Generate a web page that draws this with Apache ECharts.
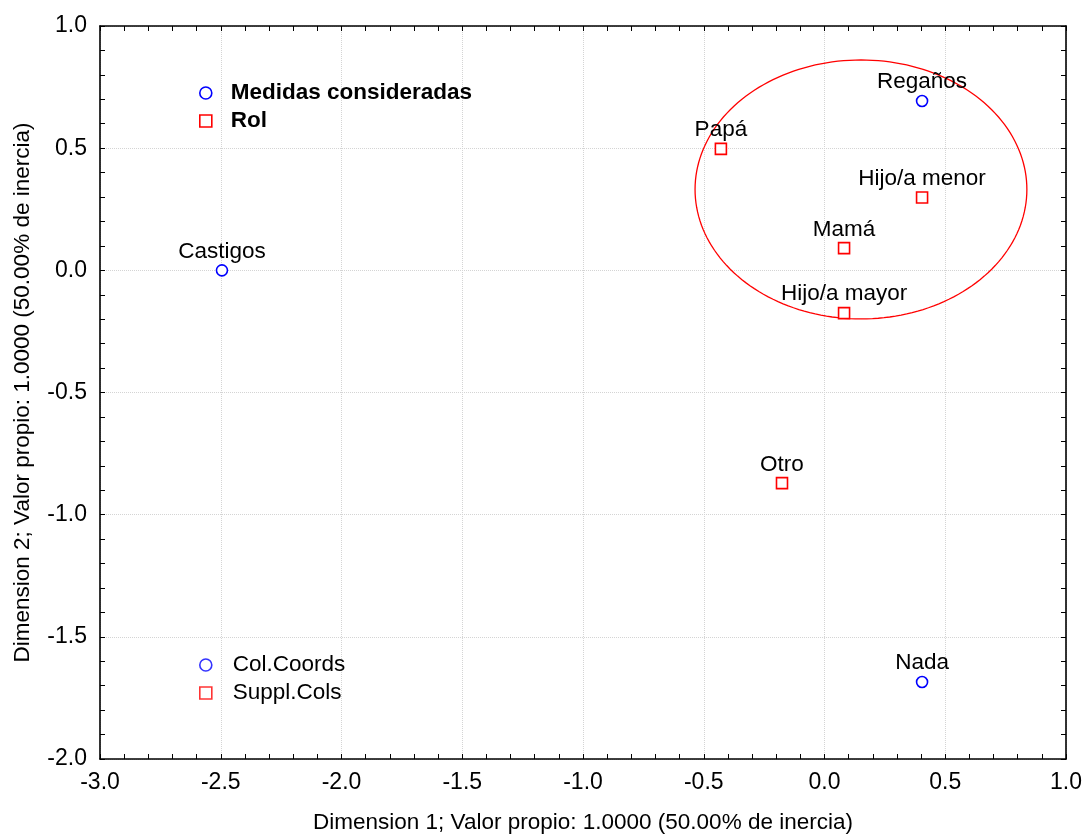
<!DOCTYPE html>
<html>
<head>
<meta charset="utf-8">
<script src="https://cdn.jsdelivr.net/npm/echarts@6/dist/echarts.min.js"></script>
<style>
html,body{margin:0;padding:0;background:#fff;}
#chart{width:1084px;height:835px;}
</style>
</head>
<body>
<div id="chart"></div>
<script>
// Column coordinates (Medidas consideradas)
const colNames = ['Castigos', 'Regaños', 'Nada'];
const colX = [-2.495, 0.404, 0.404];
const colY = [0.0, 0.693, -1.685];
// Supplementary columns (Rol)
const suppNames = ['Papá', 'Hijo/a menor', 'Mamá', 'Hijo/a mayor', 'Otro'];
const suppX = [-0.429, 0.404, 0.081, 0.081, -0.176];
const suppY = [0.497, 0.298, 0.091, -0.175, -0.871];
// Highlight ellipse: center x, center y, radius x, radius y (data units)
const ellipse = [0.151, 0.331, 0.687, 0.530];
const xTitle = 'Dimension 1; Valor propio: 1.0000 (50.00% de inercia)';
const yTitle = 'Dimension 2; Valor propio: 1.0000 (50.00% de inercia)';

const FONT = 'Liberation Sans, Arial, sans-serif';
const FS = 22.5;
const BLUE = '#0000ff', RED = '#ff0000';

const colData = colNames.map((n, i) => ({ name: n, value: [colX[i], colY[i]] }));
const suppData = suppNames.map((n, i) => ({ name: n, value: [suppX[i], suppY[i]] }));

const labelStyle = { show: true, position: 'top', distance: 1, formatter: '{b}', color: '#000', fontSize: FS, fontFamily: FONT };

const chart = echarts.init(document.getElementById('chart'), null, { renderer: 'canvas' });

const baseAxisCommon = {
  axisLine: { show: true, onZero: false, lineStyle: { color: '#000', width: 1.6 } },
  axisTick: { show: true, inside: true, length: 5, lineStyle: { color: '#000' } },
  minorTick: { show: true, splitNumber: 5, length: 5, lineStyle: { color: '#000' } },
};

chart.setOption({
  animation: false,
  backgroundColor: '#fff',
  grid: { left: 100, top: 26, width: 966, height: 733, containLabel: false, outerBoundsMode: 'none' },
  xAxis: [
    Object.assign({}, baseAxisCommon, {
      type: 'value', min: -3, max: 1, interval: 0.5, position: 'bottom',
      name: xTitle, nameLocation: 'middle', nameGap: 52,
      nameTextStyle: { fontSize: FS, fontFamily: FONT, color: '#000' },
      axisLabel: { margin: 12, fontSize: 23, fontFamily: FONT, color: '#000', formatter: v => v.toFixed(1) },
      splitLine: { show: true, lineStyle: { color: '#d4d4d4', type: 'dotted', width: 1 } },
    }),
    Object.assign({}, baseAxisCommon, {
      type: 'value', min: -3, max: 1, interval: 0.5, position: 'top',
      axisLabel: { show: false }, splitLine: { show: false },
    }),
  ],
  yAxis: [
    Object.assign({}, baseAxisCommon, {
      type: 'value', min: -2, max: 1, interval: 0.5, position: 'left',
      name: yTitle, nameLocation: 'middle', nameGap: 66,
      nameTextStyle: { fontSize: FS, fontFamily: FONT, color: '#000' },
      axisLabel: { margin: 13, fontSize: 23, fontFamily: FONT, color: '#000', formatter: v => v.toFixed(1) },
      splitLine: { show: true, lineStyle: { color: '#d4d4d4', type: 'dotted', width: 1 } },
    }),
    Object.assign({}, baseAxisCommon, {
      type: 'value', min: -2, max: 1, interval: 0.5, position: 'right',
      axisLabel: { show: false }, splitLine: { show: false },
    }),
  ],
  legend: [
    {
      orient: 'vertical', left: 199, top: 81.5, padding: 0, itemWidth: 12, itemHeight: 12, itemGap: 5,
      textStyle: { fontSize: FS, lineHeight: 23, fontWeight: 'bold', fontFamily: FONT, color: '#000', padding: [0, 0, 0, 14] },
      selectedMode: false,
      data: [
        { name: 'Medidas consideradas', icon: 'circle', itemStyle: { color: '#fff', borderColor: BLUE, borderWidth: 1.6 } },
        { name: 'Rol', icon: 'rect', itemStyle: { color: '#fff', borderColor: RED, borderWidth: 1.6 } },
      ],
    },
    {
      orient: 'vertical', left: 199, top: 653.5, padding: 0, itemWidth: 12, itemHeight: 12, itemGap: 5,
      textStyle: { fontSize: FS, lineHeight: 23, fontFamily: FONT, color: '#000', padding: [0, 0, 0, 16] },
      selectedMode: false,
      data: [
        { name: 'Col.Coords', icon: 'circle', itemStyle: { color: '#fff', borderColor: BLUE, borderWidth: 1.6 } },
        { name: 'Suppl.Cols', icon: 'rect', itemStyle: { color: '#fff', borderColor: RED, borderWidth: 1.6 } },
      ],
    },
  ],
  series: [
    {
      name: 'Medidas consideradas', type: 'scatter', symbol: 'circle', symbolSize: 11,
      itemStyle: { color: '#fff', borderColor: BLUE, borderWidth: 1.6, opacity: 1 },
      label: labelStyle, data: colData, z: 5,
    },
    {
      name: 'Rol', type: 'scatter', symbol: 'rect', symbolSize: 11,
      itemStyle: { color: '#fff', borderColor: RED, borderWidth: 1.6, opacity: 1 },
      label: labelStyle, data: suppData, z: 5,
    },
    { name: 'Col.Coords', type: 'scatter', data: [], itemStyle: { color: BLUE } },
    { name: 'Suppl.Cols', type: 'scatter', data: [], itemStyle: { color: RED } },
    {
      name: 'ellipse', type: 'custom', silent: true, z: 4,
      data: [ellipse],
      renderItem: function (params, api) {
        const cx = api.value(0), cy = api.value(1), rx = api.value(2), ry = api.value(3);
        const c = api.coord([cx, cy]);
        const px = api.coord([cx + rx, cy])[0] - c[0];
        const py = c[1] - api.coord([cx, cy + ry])[1];
        const pts = [];
        for (let i = 0; i < 180; i++) {
          const t = i / 180 * Math.PI * 2;
          pts.push([c[0] + px * Math.cos(t), c[1] + py * Math.sin(t)]);
        }
        return { type: 'polygon', shape: { points: pts }, style: { fill: 'none', stroke: RED, lineWidth: 1.3 } };
      },
    },
  ],
});
</script>
</body>
</html>
